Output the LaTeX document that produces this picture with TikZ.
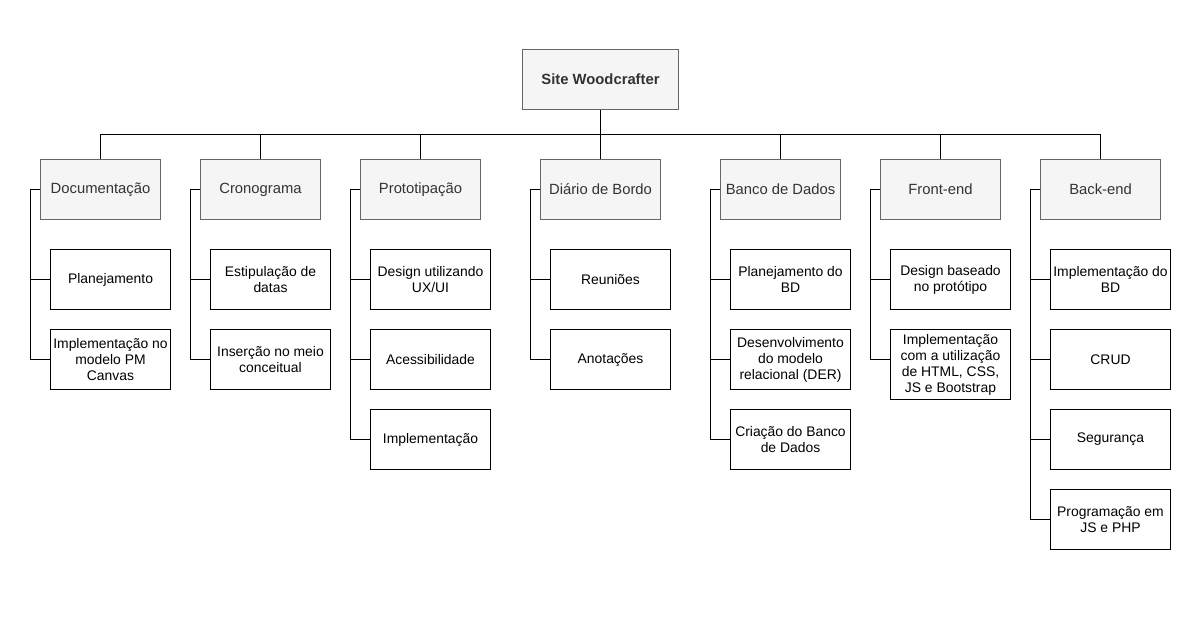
\documentclass[tikz,border=0pt]{standalone}
\usepackage{fontspec}
\setmainfont{Liberation Sans}
\definecolor{catfill}{HTML}{F5F5F5}
\definecolor{catdraw}{HTML}{666666}
\definecolor{cattext}{HTML}{333333}
\begin{document}
\begin{tikzpicture}[x=1pt,y=-1pt,line width=1pt,
  catbox/.style={draw=catdraw,fill=catfill,text=cattext,minimum width=120,minimum height=60,inner sep=0pt,anchor=north west,align=center,font=\fontsize{14.8}{17}\selectfont},
  rootbox/.style={catbox,minimum width=156,font=\fontsize{14.8}{17}\selectfont\bfseries},
  leafbox/.style={draw=black,fill=white,text=black,minimum width=120,minimum height=60,inner sep=0pt,anchor=north west,align=center,font=\fontsize{13.9}{16}\selectfont},
  conn/.style={draw=black,line width=1pt}]
\useasboundingbox (0,0) rectangle (1201,629);
\fill[white] (0,0) rectangle (1201,629);

\node[rootbox] (root) at (522,49) {Site Woodcrafter};

\node[catbox] (c1) at (40,159) {Documentação};
\node[catbox] (c2) at (200,159) {Cronograma};
\node[catbox] (c3) at (360,159) {Prototipação};
\node[catbox] (c4) at (540,159) {Diário de Bordo};
\node[catbox] (c5) at (720,159) {Banco de Dados};
\node[catbox] (c6) at (880,159) {Front-end};
\node[catbox] (c7) at (1040,159) {Back-end};

\foreach \c in {c1,c2,c3,c4,c5,c6,c7}
  \draw[conn] (\c.north) -- ++(0,-25) -| (root.south);

% Documentacao
\node[leafbox] (a1) at (50,249) {Planejamento};
\node[leafbox] (a2) at (50,329) {Implementação no\\modelo PM\\Canvas};
% Cronograma
\node[leafbox] (b1) at (210,249) {Estipulação de\\datas};
\node[leafbox] (b2) at (210,329) {Inserção no meio\\conceitual};
% Prototipacao
\node[leafbox] (p1) at (370,249) {Design utilizando\\UX/UI};
\node[leafbox] (p2) at (370,329) {Acessibilidade};
\node[leafbox] (p3) at (370,409) {Implementação};
% Diario
\node[leafbox] (d1) at (550,249) {Reuniões};
\node[leafbox] (d2) at (550,329) {Anotações};
% Banco
\node[leafbox] (e1) at (730,249) {Planejamento do\\BD};
\node[leafbox] (e2) at (730,329) {Desenvolvimento\\do modelo\\relacional (DER)};
\node[leafbox] (e3) at (730,409) {Criação do Banco\\de Dados};
% Front-end
\node[leafbox] (f1) at (890,249) {Design baseado\\no protótipo};
\node[leafbox,minimum height=70] (f2) at (890,329) {Implementação\\com a utilização\\de HTML, CSS,\\JS e Bootstrap};
% Back-end
\node[leafbox] (g1) at (1050,249) {Implementação do\\BD};
\node[leafbox] (g2) at (1050,329) {CRUD};
\node[leafbox] (g3) at (1050,409) {Segurança};
\node[leafbox] (g4) at (1050,489) {Programação em\\JS e PHP};

\foreach \c/\k in {c1/a1,c1/a2,c2/b1,c2/b2,c3/p1,c3/p2,c3/p3,c4/d1,c4/d2,c5/e1,c5/e2,c5/e3,c6/f1,c7/g1,c7/g2,c7/g3,c7/g4}
  \draw[conn] (\c.west) -- ++(-10,0) |- (\k.west);
\draw[conn] (c6.west) -- ++(-10,0) |- ([yshift=5pt]f2.west);
\end{tikzpicture}
\end{document}
